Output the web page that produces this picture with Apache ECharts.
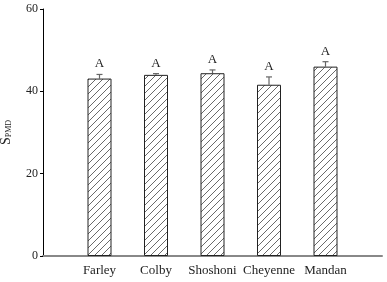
<!DOCTYPE html>
<html>
<head>
<meta charset="utf-8">
<script src="https://cdn.jsdelivr.net/npm/echarts@6/dist/echarts.min.js"></script>
<style>
  html, body { margin: 0; padding: 0; background: #fff; }
  #chart { width: 387px; height: 282px; }
</style>
</head>
<body>
<div id="chart"></div>
<script>
// values
var categories = ['Farley', 'Colby', 'Shoshoni', 'Cheyenne', 'Mandan']
var means = [43.1, 44.0, 44.4, 41.6, 46.0]
var errors = [1.0, 0.3, 0.8, 1.9, 1.2]
var letters = ['A', 'A', 'A', 'A', 'A']
var yTicks = [0, 20, 40, 60]

// empty slots at both ends so the bars sit on ticks 1..5
var axisCats = [''].concat(categories, [''])

function hatch() {
  var n = 7
  var c = document.createElement('canvas')
  c.width = n
  c.height = n
  var ctx = c.getContext('2d')
  ctx.fillStyle = '#fff'
  ctx.fillRect(0, 0, n, n)
  ctx.strokeStyle = '#444'
  ctx.lineWidth = 0.8
  ctx.beginPath()
  ctx.moveTo(-1, n + 1)
  ctx.lineTo(n + 1, -1)
  ctx.stroke()
  return c
}

var chart = echarts.init(document.getElementById('chart'))
var font = 'Liberation Serif, Times New Roman, serif'

chart.setOption({
  animation: false,
  grid: { left: 43, right: 5, top: 9, bottom: 26, containLabel: false, outerBoundsMode: 'none' },
  xAxis: {
    type: 'category',
    data: axisCats,
    boundaryGap: false,
    axisLine: { lineStyle: { color: '#888', width: 2 } },
    axisTick: { show: false },
    axisLabel: { color: '#222', fontFamily: font, fontSize: 13, margin: 8, interval: 0 },
    splitLine: { show: false }
  },
  yAxis: {
    type: 'value',
    min: 0,
    max: 60,
    interval: 20,
    name: '{s|S}{sub|PMD}',
    nameLocation: 'middle',
    nameGap: 30,
    nameTextStyle: {
      rich: {
        s: { fontFamily: font, fontSize: 14, color: '#222', verticalAlign: 'bottom', lineHeight: 14 },
        sub: { fontFamily: font, fontSize: 8, color: '#222', verticalAlign: 'bottom', lineHeight: 10 }
      }
    },
    axisLine: { show: true, lineStyle: { color: '#000', width: 1 } },
    axisTick: { show: true, length: 3, lineStyle: { color: '#000' } },
    axisLabel: {
      color: '#222', fontFamily: font, fontSize: 12, margin: 5,
      formatter: function (v) { return yTicks.indexOf(v) >= 0 ? v : '' }
    },
    splitLine: { show: false }
  },
  series: [
    {
      type: 'bar',
      barWidth: 24,
      data: means.map(function (v, i) { return [i + 1, v] }),
      itemStyle: {
        color: { image: hatch(), repeat: 'repeat' },
        borderColor: '#222',
        borderWidth: 1
      }
    },
    {
      type: 'custom',
      data: means.map(function (v, i) { return [i + 1, v, v + errors[i], letters[i]] }),
      renderItem: function (params, api) {
        var x = api.coord([api.value(0), 0])[0]
        var y0 = api.coord([api.value(0), api.value(1)])[1]
        var y1 = api.coord([api.value(0), api.value(2)])[1]
        var st = { stroke: '#666', lineWidth: 1.2 }
        return {
          type: 'group',
          children: [
            { type: 'line', shape: { x1: x, y1: y0, x2: x, y2: y1 }, style: st },
            { type: 'line', shape: { x1: x - 3, y1: y1, x2: x + 3, y2: y1 }, style: st },
            {
              type: 'text',
              style: {
                x: x, y: y1 - 4, text: letters[params.dataIndex],
                textAlign: 'center', textVerticalAlign: 'bottom',
                font: '13px ' + font, fill: '#222'
              }
            }
          ]
        }
      }
    }
  ]
})
</script>
</body>
</html>
